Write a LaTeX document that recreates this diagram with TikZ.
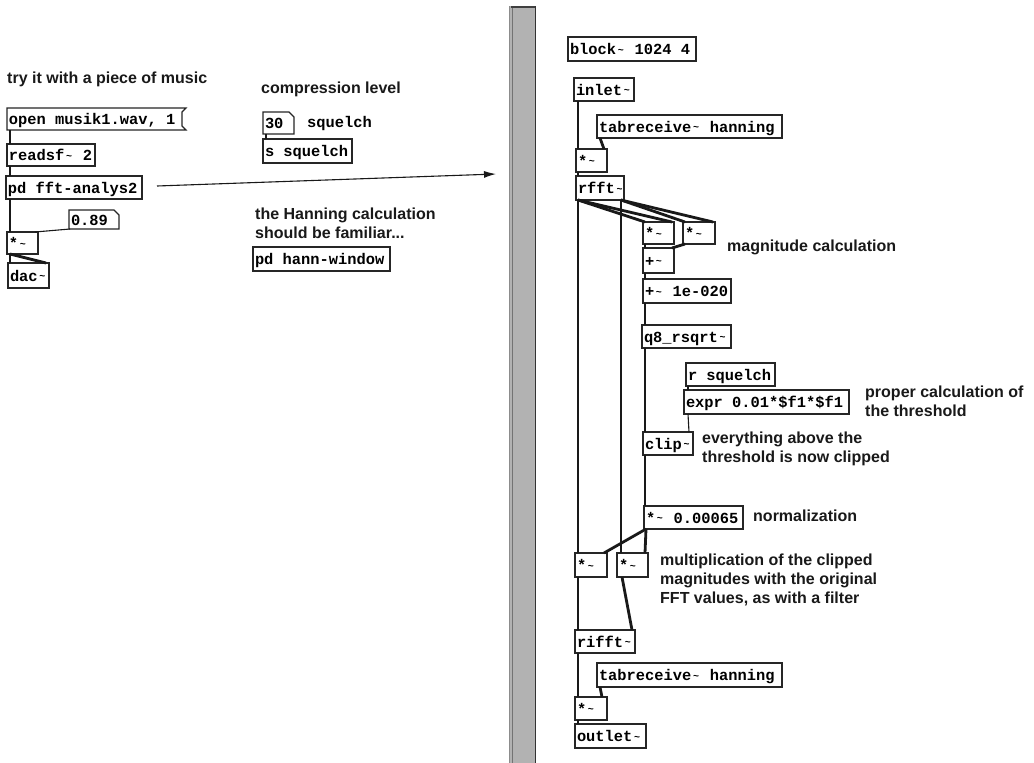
\documentclass[tikz,border=0pt]{standalone}
\usepackage{fontspec}
\setmainfont{Liberation Sans}
\newfontfamily\pdmono{Liberation Mono}
\usetikzlibrary{calc,arrows.meta}

\newcommand\tl{\makebox[0.6em][c]{\raisebox{1.5pt}{\fontsize{10}{10}\selectfont\textasciitilde}}}
\newcommand\pdnode[7]{%
  \pgfmathsetmacro\pdtw{#5-#3-4}%
  \pgfmathsetmacro\pdh{#6-#4}%
  \node[pdobj,#1,minimum height=\pdh pt] (#2) at (#3,#4) {\makebox[\pdtw pt][l]{#7}};%
}
\newcommand\wire[5]{\draw[#1] ($(#2.south west)+(#3,0)$) -- ($(#4.north west)+(#5,0)$);}

\tikzset{
 pdobj/.style={draw=black!85, line width=1.1pt, anchor=north west, inner xsep=2pt, inner ysep=0pt, outer sep=0pt,
   text height=13pt, text depth=2pt, font=\pdmono\bfseries\fontsize{15.4}{16}\selectfont},
 plain/.style={draw=none},
 sig/.style={line width=2.8pt, draw=black!90},
 ctl/.style={line width=1.1pt, draw=black!90},
 lbl/.style={anchor=base west, inner sep=0pt, align=left, font=\bfseries\fontsize{16}{19}\selectfont, text=black!90},
 monolbl/.style={anchor=base west, inner sep=0pt, font=\pdmono\bfseries\fontsize{15.4}{16}\selectfont},
 shapeline/.style={draw=black!85, line width=1.1pt},
 barfill/.style={fill=black!30},
}

\begin{document}
\begin{tikzpicture}[x=1pt,y=-1pt]
\fill[white] (0,0) rectangle (1034,763);
\useasboundingbox (0,0) rectangle (1034,763);

% divider bar
\fill[barfill] (509,6) rectangle (536,763);
\draw[black!45, line width=1pt] (509.5,6) -- (509.5,763);
\draw[black!55, line width=1pt] (512,8) -- (512,763);
\draw[black!80, line width=1.6pt] (535.5,6) -- (535.5,763);
\draw[black!75, line width=1.4pt] (511,7) -- (535,7);

% ---------- left part ----------
\node[lbl] (t1) at (7,83) {try it with a piece of music};
\pdnode{plain}{open}{7}{108}{186}{130}{open musik1.wav, 1}
\draw[shapeline] (open.north west) -- (open.north east) -- ($(open.north east)+(-4,4)$)
  -- ($(open.south east)+(-4,-4)$) -- (open.south east) -- (open.south west) -- cycle;
\pdnode{}{readsf}{7}{144}{95}{166}{readsf\tl{} 2}
\pdnode{}{pdfft}{6}{176}{142}{199}{pd fft-analys2}
\pdnode{plain}{n089}{69}{210}{119}{229}{0.89}
\draw[shapeline] (n089.north west) -- ($(n089.north east)+(-5,0)$) -- ($(n089.north east)+(0,5)$)
  -- (n089.south east) -- (n089.south west) -- cycle;
\pdnode{}{mulL}{7}{232}{38}{254}{*\tl}
\pdnode{}{dac}{8}{263}{49}{288}{dac\tl}

\node[lbl] (t2) at (261,93) {compression level};
\pdnode{plain}{n30}{263}{112}{294}{134}{30}
\draw[shapeline] (n30.north west) -- ($(n30.north east)+(-5,0)$) -- ($(n30.north east)+(0,5)$)
  -- (n30.south east) -- (n30.south west) -- cycle;
\node[monolbl] (t3) at (307,127) {squelch};
\pdnode{}{ssq}{263}{139}{352}{163}{s squelch}
\node[lbl] (t4) at (255,238) {the Hanning calculation\\should be familiar...};
\pdnode{}{hann}{253}{247}{390}{271}{pd hann-window}

\coordinate (arrS) at (157,186);
\coordinate (arrE) at (496,174);
\draw[ctl, -{Latex[length=12pt,width=7pt]}] (arrS) -- (arrE);

\wire{ctl}{open}{3}{readsf}{3}
\wire{sig}{readsf}{3}{pdfft}{4}
\wire{sig}{pdfft}{4}{mulL}{3}
\wire{ctl}{n089}{1}{mulL}{28}
\wire{sig}{mulL}{3}{dac}{2}
\wire{sig}{mulL}{3}{dac}{38}
\wire{ctl}{n30}{3}{ssq}{3}

% ---------- right part ----------
\pdnode{}{block}{568}{37}{696}{61}{block\tl{} 1024 4}
\pdnode{}{inlet}{574}{78}{634}{101}{inlet\tl}
\pdnode{}{tab1}{597}{115}{782}{138}{tabreceive\tl{} hanning}
\pdnode{}{mul1}{576}{149}{607}{172}{*\tl}
\pdnode{}{rfft}{576}{176}{624}{200}{rfft\tl}
\pdnode{}{mulA}{643}{222}{674}{244}{*\tl}
\pdnode{}{mulB}{683}{222}{715}{244}{*\tl}
\node[lbl] (t5) at (727,251) {magnitude calculation};
\pdnode{}{add}{643}{248}{674}{273}{+\tl}
\pdnode{}{add2}{643}{279}{731}{303}{+\tl{} 1e-020}
\pdnode{}{rsqrt}{642}{325}{731}{348}{q8\_rsqrt\tl}
\pdnode{}{rsq}{686}{363}{775}{386}{r squelch}
\pdnode{}{expr}{684}{390}{849}{414}{expr 0.01*\$f1*\$f1}
\node[lbl] (t6) at (865,416) {proper calculation of\\the threshold};
\pdnode{}{clip}{643}{432}{693}{455}{clip\tl}
\node[lbl] (t7) at (702,462) {everything above the\\threshold is now clipped};
\pdnode{}{norm}{644}{506}{743}{529}{*\tl{} 0.00065}
\node[lbl] (t8) at (753,521) {normalization};
\pdnode{}{mulC}{575}{553}{607}{577}{*\tl}
\pdnode{}{mulD}{617}{553}{648}{577}{*\tl}
\node[lbl] (t9) at (660,603) {multiplication of the clipped\\magnitudes with the original\\FFT values, as with a filter};
\pdnode{}{rifft}{575}{630}{635}{653}{rifft\tl}
\pdnode{}{tab2}{597}{663}{782}{687}{tabreceive\tl{} hanning}
\pdnode{}{mulE}{575}{697}{607}{720}{*\tl}
\pdnode{}{outlet}{575}{724}{646}{748}{outlet\tl}

\wire{sig}{inlet}{4}{mul1}{2}
\wire{sig}{tab1}{3}{mul1}{28}
\wire{sig}{mul1}{2}{rfft}{2}
\wire{sig}{rfft}{2}{mulC}{3}
\wire{sig}{rfft}{45}{mulD}{4}
\wire{sig}{rfft}{2}{mulA}{2}
\wire{sig}{rfft}{2}{mulA}{29}
\wire{sig}{rfft}{45}{mulB}{2}
\wire{sig}{rfft}{45}{mulB}{30}
\wire{sig}{mulA}{2}{add}{2}
\wire{sig}{mulB}{2}{add}{29}
\wire{sig}{add}{2}{add2}{2}
\wire{sig}{add2}{2}{rsqrt}{3}
\wire{sig}{rsqrt}{3}{clip}{2}
\wire{ctl}{rsq}{2}{expr}{4}
\wire{ctl}{expr}{4}{clip}{46}
\wire{sig}{clip}{2}{norm}{1}
\wire{sig}{norm}{2}{mulC}{29}
\wire{sig}{norm}{2}{mulD}{28}
\wire{sig}{mulC}{3}{rifft}{3}
\wire{sig}{mulD}{5}{rifft}{57}
\wire{sig}{rifft}{3}{mulE}{3}
\wire{sig}{tab2}{3}{mulE}{27}
\wire{sig}{mulE}{3}{outlet}{3}
\end{tikzpicture}
\end{document}
